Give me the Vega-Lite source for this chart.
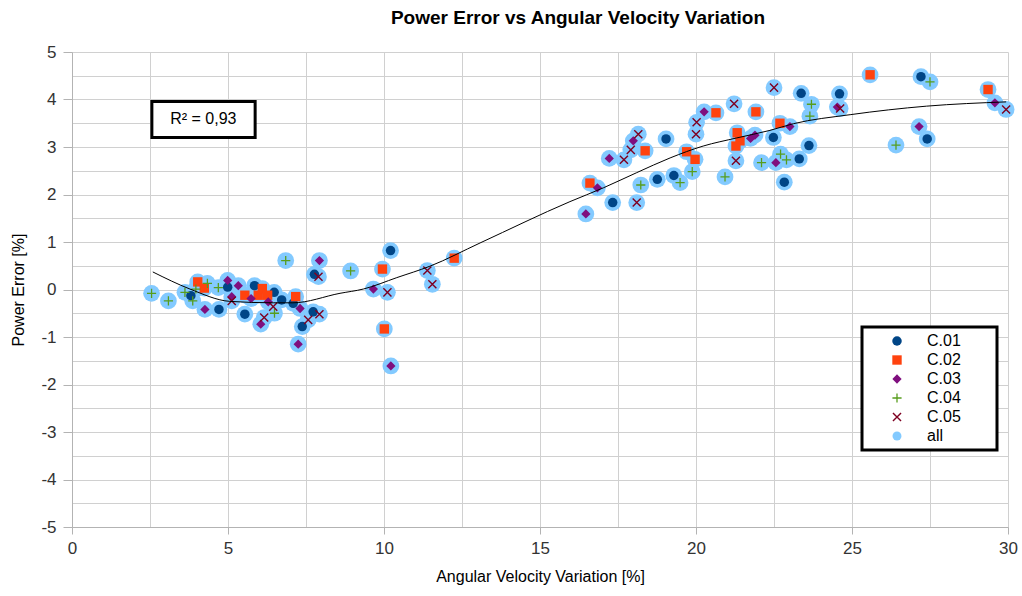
{
  "$schema": "https://vega.github.io/schema/vega-lite/v6.json",
  "width": 936,
  "height": 475,
  "autosize": {"type": "none"},
  "padding": {"left": 72, "top": 52, "right": 14, "bottom": 69},
  "background": "white",
  "config": {"view": {"stroke": null}, "font": "Liberation Sans"},
  "title": {"text": "Power Error vs Angular Velocity Variation", "fontSize": 19, "font": "Liberation Sans", "fontWeight": "bold", "color": "#000000", "offset": 15, "dx": 38, "anchor": "middle"},
  "datasets": {
    "note": [{"label": "R² = 0,93"}],
    "trend": [
      {"x": 2.59, "y": 0.37}, {"x": 3.78, "y": 0.01}, {"x": 5.06, "y": -0.25}, {"x": 6.45, "y": -0.28},
      {"x": 7.08, "y": -0.28}, {"x": 8.59, "y": -0.08}, {"x": 9.34, "y": 0.01}, {"x": 10.41, "y": 0.25},
      {"x": 11.47, "y": 0.49}, {"x": 13.08, "y": 0.98}, {"x": 15.96, "y": 1.85}, {"x": 17.03, "y": 2.14},
      {"x": 18.1, "y": 2.46}, {"x": 19.17, "y": 2.77}, {"x": 20.23, "y": 3.02}, {"x": 21.3, "y": 3.19},
      {"x": 22.37, "y": 3.35}, {"x": 23.12, "y": 3.49}, {"x": 24.94, "y": 3.68}, {"x": 27.39, "y": 3.86},
      {"x": 29.94, "y": 3.95}
    ]
  },
  "data": {"values": [
    {"series": "C.01", "x": 3.81, "y": -0.13},
    {"series": "C.01", "x": 4.71, "y": -0.42},
    {"series": "C.01", "x": 4.99, "y": 0.05},
    {"series": "C.01", "x": 5.85, "y": 0.08},
    {"series": "C.01", "x": 6.48, "y": -0.06},
    {"series": "C.01", "x": 6.72, "y": -0.22},
    {"series": "C.01", "x": 5.54, "y": -0.52},
    {"series": "C.01", "x": 7.09, "y": -0.29},
    {"series": "C.01", "x": 7.38, "y": -0.78},
    {"series": "C.01", "x": 7.73, "y": -0.47},
    {"series": "C.01", "x": 7.77, "y": 0.32},
    {"series": "C.01", "x": 10.21, "y": 0.82},
    {"series": "C.01", "x": 17.33, "y": 1.83},
    {"series": "C.01", "x": 18.76, "y": 2.32},
    {"series": "C.01", "x": 19.04, "y": 3.17},
    {"series": "C.01", "x": 19.29, "y": 2.4},
    {"series": "C.01", "x": 22.48, "y": 3.2},
    {"series": "C.01", "x": 23.37, "y": 4.13},
    {"series": "C.01", "x": 24.6, "y": 4.12},
    {"series": "C.01", "x": 23.62, "y": 3.03},
    {"series": "C.01", "x": 23.31, "y": 2.75},
    {"series": "C.01", "x": 22.83, "y": 2.26},
    {"series": "C.01", "x": 27.21, "y": 4.48},
    {"series": "C.01", "x": 27.41, "y": 3.17},
    {"series": "C.02", "x": 4.03, "y": 0.16},
    {"series": "C.02", "x": 4.24, "y": 0.03},
    {"series": "C.02", "x": 5.54, "y": -0.12},
    {"series": "C.02", "x": 5.97, "y": -0.12},
    {"series": "C.02", "x": 6.1, "y": 0.02},
    {"series": "C.02", "x": 6.27, "y": -0.12},
    {"series": "C.02", "x": 7.17, "y": -0.15},
    {"series": "C.02", "x": 9.95, "y": 0.43},
    {"series": "C.02", "x": 10.01, "y": -0.83},
    {"series": "C.02", "x": 12.25, "y": 0.66},
    {"series": "C.02", "x": 16.6, "y": 2.24},
    {"series": "C.02", "x": 18.37, "y": 2.92},
    {"series": "C.02", "x": 19.7, "y": 2.9},
    {"series": "C.02", "x": 19.97, "y": 2.74},
    {"series": "C.02", "x": 20.64, "y": 3.72},
    {"series": "C.02", "x": 21.92, "y": 3.74},
    {"series": "C.02", "x": 21.32, "y": 3.3},
    {"series": "C.02", "x": 21.41, "y": 3.13},
    {"series": "C.02", "x": 21.28, "y": 3.02},
    {"series": "C.02", "x": 22.69, "y": 3.5},
    {"series": "C.02", "x": 25.58, "y": 4.52},
    {"series": "C.02", "x": 29.36, "y": 4.21},
    {"series": "C.03", "x": 4.26, "y": -0.42},
    {"series": "C.03", "x": 4.99, "y": 0.19},
    {"series": "C.03", "x": 5.33, "y": 0.08},
    {"series": "C.03", "x": 5.12, "y": -0.15},
    {"series": "C.03", "x": 5.74, "y": -0.19},
    {"series": "C.03", "x": 6.29, "y": -0.26},
    {"series": "C.03", "x": 6.05, "y": -0.73},
    {"series": "C.03", "x": 7.31, "y": -0.4},
    {"series": "C.03", "x": 7.25, "y": -1.15},
    {"series": "C.03", "x": 7.93, "y": 0.61},
    {"series": "C.03", "x": 9.66, "y": 0.01},
    {"series": "C.03", "x": 10.22, "y": -1.61},
    {"series": "C.03", "x": 16.47, "y": 1.59},
    {"series": "C.03", "x": 16.84, "y": 2.14},
    {"series": "C.03", "x": 17.22, "y": 2.76},
    {"series": "C.03", "x": 17.99, "y": 3.13},
    {"series": "C.03", "x": 20.26, "y": 3.74},
    {"series": "C.03", "x": 21.75, "y": 3.18},
    {"series": "C.03", "x": 21.89, "y": 3.25},
    {"series": "C.03", "x": 23.01, "y": 3.43},
    {"series": "C.03", "x": 22.56, "y": 2.67},
    {"series": "C.03", "x": 24.53, "y": 3.84},
    {"series": "C.03", "x": 27.15, "y": 3.43},
    {"series": "C.03", "x": 29.58, "y": 3.93},
    {"series": "C.04", "x": 2.55, "y": -0.08},
    {"series": "C.04", "x": 3.09, "y": -0.24},
    {"series": "C.04", "x": 3.62, "y": -0.06},
    {"series": "C.04", "x": 3.87, "y": -0.24},
    {"series": "C.04", "x": 3.97, "y": 0.01},
    {"series": "C.04", "x": 4.34, "y": 0.13},
    {"series": "C.04", "x": 4.69, "y": 0.04},
    {"series": "C.04", "x": 6.49, "y": -0.5},
    {"series": "C.04", "x": 6.85, "y": 0.61},
    {"series": "C.04", "x": 8.93, "y": 0.39},
    {"series": "C.04", "x": 18.23, "y": 2.2},
    {"series": "C.04", "x": 19.49, "y": 2.25},
    {"series": "C.04", "x": 19.88, "y": 2.48},
    {"series": "C.04", "x": 20.93, "y": 2.37},
    {"series": "C.04", "x": 22.1, "y": 2.67},
    {"series": "C.04", "x": 22.71, "y": 2.85},
    {"series": "C.04", "x": 22.9, "y": 2.73},
    {"series": "C.04", "x": 23.65, "y": 3.65},
    {"series": "C.04", "x": 23.7, "y": 3.9},
    {"series": "C.04", "x": 26.41, "y": 3.04},
    {"series": "C.04", "x": 27.5, "y": 4.37},
    {"series": "C.05", "x": 5.12, "y": -0.24},
    {"series": "C.05", "x": 6.45, "y": -0.36},
    {"series": "C.05", "x": 6.16, "y": -0.59},
    {"series": "C.05", "x": 7.57, "y": -0.64},
    {"series": "C.05", "x": 7.9, "y": 0.27},
    {"series": "C.05", "x": 7.93, "y": -0.52},
    {"series": "C.05", "x": 10.11, "y": -0.06},
    {"series": "C.05", "x": 11.39, "y": 0.4},
    {"series": "C.05", "x": 11.55, "y": 0.11},
    {"series": "C.05", "x": 17.69, "y": 2.73},
    {"series": "C.05", "x": 17.91, "y": 2.94},
    {"series": "C.05", "x": 18.15, "y": 3.27},
    {"series": "C.05", "x": 18.1, "y": 1.83},
    {"series": "C.05", "x": 20.0, "y": 3.27},
    {"series": "C.05", "x": 20.02, "y": 3.52},
    {"series": "C.05", "x": 21.22, "y": 3.91},
    {"series": "C.05", "x": 21.28, "y": 2.71},
    {"series": "C.05", "x": 22.5, "y": 4.25},
    {"series": "C.05", "x": 24.62, "y": 3.81},
    {"series": "C.05", "x": 29.94, "y": 3.79}
  ]},
  "layer": [
    {
      "mark": {"type": "point", "filled": true, "shape": "circle", "size": 280, "color": "#83caff", "opacity": 1},
      "encoding": {
        "x": {"field": "x", "type": "quantitative", "scale": {"domain": [0, 30], "nice": false, "zero": false},
          "axis": {"orient": "bottom", "values": [0, 2.5, 5, 7.5, 10, 12.5, 15, 17.5, 20, 22.5, 25, 27.5, 30], "labels": false, "ticks": false, "domain": false, "title": null, "grid": true, "gridColor": "#d0d0d0", "gridWidth": 1}},
        "y": {"field": "y", "type": "quantitative", "scale": {"domain": [-5, 5], "nice": false, "zero": false},
          "axis": {"orient": "left", "values": [-5, -4.5, -4, -3.5, -3, -2.5, -2, -1.5, -1, -0.5, 0, 0.5, 1, 1.5, 2, 2.5, 3, 3.5, 4, 4.5, 5], "labels": false, "ticks": false, "domain": false, "title": null, "grid": true, "gridColor": "#d0d0d0", "gridWidth": 1}}
      }
    },
    {
      "mark": {"type": "point", "filled": true, "opacity": 1},
      "encoding": {
        "x": {"field": "x", "type": "quantitative",
          "axis": {"orient": "bottom", "values": [0, 5, 10, 15, 20, 25, 30], "grid": false, "title": "Angular Velocity Variation [%]", "labelFlush": false, "labelExpr": "'' + datum.value", "labelFontSize": 17, "labelColor": "#333333", "labelFont": "Liberation Sans", "tickColor": "#b3b3b3", "tickSize": 7, "domainColor": "#b3b3b3", "labelPadding": 6, "titleFontSize": 16, "titleFontWeight": "normal", "titleFont": "Liberation Sans", "titleColor": "#000000", "titlePadding": 12}},
        "y": {"field": "y", "type": "quantitative",
          "axis": {"orient": "left", "values": [-5, -4, -3, -2, -1, 0, 1, 2, 3, 4, 5], "grid": false, "title": "Power Error [%]", "labelFlush": false, "labelExpr": "'' + datum.value", "labelFontSize": 17, "labelColor": "#333333", "labelFont": "Liberation Sans", "tickColor": "#b3b3b3", "tickSize": 9, "domainColor": "#b3b3b3", "labelPadding": 7, "titleFontSize": 16, "titleFontWeight": "normal", "titleFont": "Liberation Sans", "titleColor": "#000000", "titlePadding": 14}},
        "color": {"field": "series", "type": "nominal",
          "scale": {"domain": ["C.01", "C.02", "C.03", "C.04", "C.05", "all"], "range": ["#004586", "#ff420e", "#7f0f7e", "#579d1c", "#7e0021", "#83caff"]},
          "legend": {"title": ".", "titleOrient": "right", "titlePadding": 25, "titleColor": "#ffffff", "titleFontSize": 16, "orient": "none", "legendX": 790, "legendY": 275, "fillColor": "white", "strokeColor": "black", "padding": 6, "symbolOffset": 21, "symbolSize": 81, "labelOffset": 22, "labelFontSize": 16, "labelFont": "Liberation Sans", "labelColor": "#000000", "rowPadding": 3, "labelExpr": "datum.label + '\u00a0\u00a0\u00a0\u00a0\u00a0\u00a0\u00a0\u00a0\u00a0\u00a0'",
            "encoding": {"legend": {"strokeWidth": {"value": 3}}}}},
        "shape": {"field": "series", "type": "nominal",
          "scale": {"domain": ["C.01", "C.02", "C.03", "C.04", "C.05", "all"], "range": ["circle", "square", "diamond", "M-1,-0.14H1V0.14H-1Z M-0.14,-1H0.14V1H-0.14Z", "M-1,-0.78L-0.78,-1L1,0.78L0.78,1Z M-1,0.78L0.78,-1L1,-0.78L-0.78,1Z", "circle"]}},
        "size": {"field": "series", "type": "nominal", "legend": null,
          "scale": {"domain": ["C.01", "C.02", "C.03", "C.04", "C.05", "all"], "range": [90, 80, 100, 130, 100, 80]}}
      }
    },
    {
      "data": {"name": "trend"},
      "mark": {"type": "line", "color": "#000000", "strokeWidth": 1, "interpolate": "monotone"},
      "encoding": {
        "x": {"field": "x", "type": "quantitative", "axis": null},
        "y": {"field": "y", "type": "quantitative", "axis": null}
      }
    },
    {
      "data": {"name": "note"},
      "mark": {"type": "rect", "fill": "white", "stroke": "black", "strokeWidth": 3},
      "encoding": {
        "x": {"datum": 2.56, "type": "quantitative", "axis": null},
        "x2": {"datum": 5.87},
        "y": {"datum": 3.96, "type": "quantitative", "axis": null},
        "y2": {"datum": 3.2}
      }
    },
    {
      "data": {"name": "note"},
      "mark": {"type": "text", "fontSize": 16, "font": "Liberation Sans", "color": "#000000", "align": "center", "baseline": "middle"},
      "encoding": {
        "x": {"datum": 4.21, "type": "quantitative", "axis": null},
        "y": {"datum": 3.58, "type": "quantitative", "axis": null},
        "text": {"field": "label"}
      }
    }
  ],
  "resolve": {"axis": {"x": "independent", "y": "independent"}}
}
